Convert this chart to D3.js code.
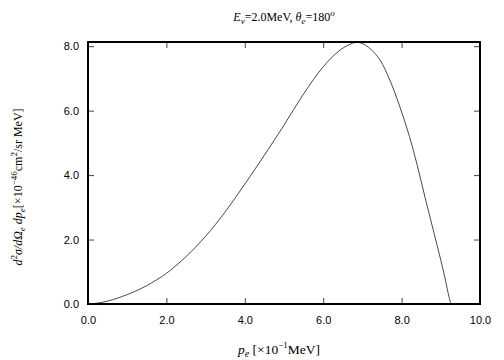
<!DOCTYPE html>
<meta charset="utf-8">
<style>
  body { margin: 0; background: #fff; }
  .tick text { font: 11px "Liberation Sans", Arial, sans-serif; fill: #000; }
  .lbl { font-family: "Liberation Serif", "Times New Roman", serif; font-size: 12px; fill: #000; }
</style>
<svg width="504" height="360"></svg>
<script src="https://cdn.jsdelivr.net/npm/d3@7"></script>
<script>
// momentum of electron [x10^-1 MeV] and cross section [x10^-46 cm^2/sr MeV]
var pe    = [0.0, 0.25, 0.5, 0.75, 1.0, 1.25, 1.5, 1.75, 2.0, 2.5, 3.0, 3.5, 4.0, 4.5, 5.0, 5.5, 6.0, 6.4, 6.65, 6.85, 7.0, 7.2, 7.45, 7.7, 7.95, 8.2, 8.4, 8.6, 8.8, 9.0, 9.1, 9.18, 9.23, 9.26];
var sigma = [0.0, 0.03, 0.09, 0.18, 0.29, 0.42, 0.57, 0.75, 0.95, 1.47, 2.10, 2.86, 3.72, 4.62, 5.55, 6.52, 7.36, 7.85, 8.04, 8.12, 8.08, 7.92, 7.57, 6.95, 6.14, 5.20, 4.30, 3.30, 2.33, 1.36, 0.84, 0.38, 0.12, 0.0];
var xTicks = [0, 2, 4, 6, 8, 10];
var yTicks = [0, 2, 4, 6, 8];

var svg = d3.select("svg"),
    margin = {top: 42, right: 24, bottom: 56, left: 88},
    width = 504 - margin.left - margin.right,
    height = 360 - margin.top - margin.bottom;

var x = d3.scaleLinear().domain([0, 10]).range([0, width]),
    y = d3.scaleLinear().domain([0, 8.13]).range([height, 0]);

var g = svg.append("g").attr("transform", "translate(" + margin.left + "," + margin.top + ")");

var fmt = d3.format(".1f");

// axes with inward ticks, mirrored on top / right
g.append("g").attr("transform", "translate(0," + height + ")")
  .call(d3.axisBottom(x).tickValues(xTicks).tickSize(-6).tickPadding(12).tickFormat(fmt));
g.append("g")
  .call(d3.axisTop(x).tickValues(xTicks).tickSize(-6).tickFormat(""));
g.append("g")
  .call(d3.axisLeft(y).tickValues(yTicks).tickSize(-6).tickPadding(9).tickFormat(fmt));
g.append("g").attr("transform", "translate(" + width + ",0)")
  .call(d3.axisRight(y).tickValues(yTicks).tickSize(-6).tickFormat(""));
g.selectAll(".domain").remove();
g.selectAll(".tick line").attr("stroke", "#444");

var pts = pe.map(function(v, i) { return [v, sigma[i]]; });
var line = d3.line()
  .x(function(d) { return x(d[0]); })
  .y(function(d) { return y(d[1]); })
  .curve(d3.curveCatmullRom.alpha(0.5));

g.append("path").datum(pts)
  .attr("d", line)
  .attr("fill", "none")
  .attr("stroke", "#333")
  .attr("stroke-width", 0.9);

// frame
g.append("rect").attr("width", width).attr("height", height)
  .attr("fill", "none").attr("stroke", "#000").attr("stroke-width", 2);

// title
var t = svg.append("text").attr("class", "lbl").attr("x", margin.left + width / 2).attr("y", 21).attr("text-anchor", "middle");
t.append("tspan").attr("font-style", "italic").text("E");
t.append("tspan").attr("font-style", "italic").attr("font-size", 9).attr("dy", 3).text("ν");
t.append("tspan").attr("dy", -3).text("=2.0MeV, ");
t.append("tspan").attr("font-style", "italic").text("θ");
t.append("tspan").attr("font-style", "italic").attr("font-size", 9).attr("dy", 3).text("e");
t.append("tspan").attr("dy", -3).text("=180");
t.append("tspan").attr("font-style", "italic").attr("font-size", 9).attr("dy", -5).text("o");

// x label
var xl = svg.append("text").attr("class", "lbl").style("font-size", "13.5px")
  .attr("x", 279).attr("y", 354).attr("text-anchor", "middle");
xl.append("tspan").attr("font-style", "italic").text("p");
xl.append("tspan").attr("font-style", "italic").attr("font-size", 10).attr("dy", 3).text("e");
xl.append("tspan").attr("dy", -3).text(" [×10");
xl.append("tspan").attr("font-size", 9).attr("dy", -6).text("−1");
xl.append("tspan").attr("dy", 6).text("MeV]");

// y label
var yl = svg.append("text").attr("class", "lbl")
  .attr("transform", "translate(22,187) rotate(-90)").attr("text-anchor", "middle");
yl.append("tspan").attr("font-style", "italic").text("d");
yl.append("tspan").attr("font-size", 9).attr("dy", -5).text("2");
yl.append("tspan").attr("font-style", "italic").attr("dy", 5).text("σ/dΩ");
yl.append("tspan").attr("font-style", "italic").attr("font-size", 9).attr("dy", 3).text("e");
yl.append("tspan").attr("font-style", "italic").attr("dy", -3).text(" dp");
yl.append("tspan").attr("font-style", "italic").attr("font-size", 9).attr("dy", 3).text("e");
yl.append("tspan").attr("dy", -3).text("[×10");
yl.append("tspan").attr("font-size", 9).attr("dy", -5).text("−46");
yl.append("tspan").attr("dy", 5).text("cm");
yl.append("tspan").attr("font-size", 9).attr("dy", -5).text("2");
yl.append("tspan").attr("dy", 5).text("/sr MeV]");
</script>
